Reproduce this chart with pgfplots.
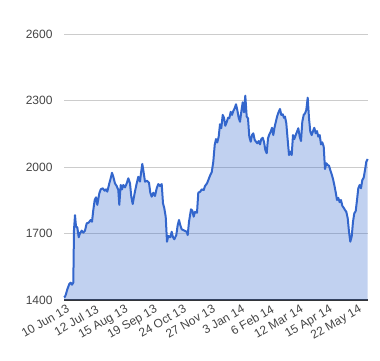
\documentclass[border=0pt]{standalone}
\usepackage{pgfplots}
\pgfplotsset{compat=1.18}
\usepackage{pgfplotstable}
\usepackage{fontspec}
\setmainfont{Liberation Sans}
\definecolor{lineblue}{HTML}{3366CC}
\definecolor{gridgray}{HTML}{CCCCCC}
\definecolor{axisdark}{HTML}{333333}
\definecolor{labelgray}{HTML}{444444}
\pgfplotstableread{
x y
64 1412
65 1415
66 1427
67.3 1448
69.3 1472
70.7 1478
72 1469
73.3 1478
74 1716
75 1783
76 1731
77.3 1728
78.7 1683
80 1701
81.7 1713
83.3 1704
85 1713
86.7 1746
88.7 1749
90.7 1761
92 1753
93.3 1806
94.7 1851
96 1863
97.3 1829
99.3 1881
100.7 1899
102.7 1904
104.7 1893
106 1899
107.3 1889
109.3 1926
110.7 1949
112 1974
113.3 1956
115 1926
116.7 1914
118.3 1896
119.3 1829
120.7 1919
122 1899
123.3 1919
125 1908
126.7 1926
128.3 1949
130 1926
131.3 1866
132.7 1833
134 1866
135 1890
136.7 1926
138.3 1956
140 1934
141 1972
142.3 2014
143.3 1986
145 1934
147 1938
149 1929
150.3 1884
151.7 1866
153.3 1884
155 1869
156.7 1904
158.3 1923
160 1914
161.7 1923
163 1836
164.3 1814
165.7 1776
167 1663
168.3 1689
170.3 1683
171.7 1708
173 1683
174.3 1674
176.3 1693
177.7 1738
179 1761
180.3 1738
181.7 1719
184.3 1713
186.7 1708
187.7 1693
189 1753
191 1809
192.3 1803
193.7 1776
195 1798
197 1794
198.3 1884
200.3 1889
201.7 1899
203.7 1896
205 1914
207 1926
208.3 1941
210.3 1964
211.7 1976
213.3 2024
214.7 2099
216 2126
217.3 2111
218.7 2137
220 2193
221.3 2175
222.7 2235
224 2222
225.3 2186
226.7 2202
228 2222
229.3 2220
230.7 2249
232 2235
233.3 2253
234.7 2265
236 2283
237.3 2257
238.7 2222
240 2204
241.3 2249
242.7 2292
244 2247
245.3 2322
246.7 2227
248 2220
249.3 2137
250.7 2114
252 2144
253.3 2152
254.7 2122
256 2114
257.3 2107
258.7 2117
260 2102
261.3 2126
262.7 2132
264 2114
265.3 2077
266.7 2062
268 2129
269.3 2147
270.7 2159
272 2177
273.3 2144
274.7 2182
276 2207
277.3 2231
278.7 2249
280 2262
281.3 2235
282.7 2238
284 2222
285 2227
286.3 2197
287.7 2122
289 2054
290.3 2069
291.7 2054
293 2144
294.3 2126
295.7 2144
297 2159
298.3 2175
299.7 2137
301 2117
302.3 2204
303.7 2235
305 2242
306.3 2257
307.7 2313
309 2220
310.3 2159
311.7 2144
313 2162
314.3 2177
315.7 2152
317 2162
318.3 2137
319.7 2144
321 2102
322.3 2111
323.7 2092
325 1991
326.3 2017
327.7 2009
329 2006
330.3 1986
331.7 1967
333 1946
334.3 1919
335.7 1886
337 1851
338.3 1861
339.7 1841
341 1851
342.3 1825
343.7 1816
345 1806
346.3 1798
347.7 1769
349 1708
350.3 1663
351.7 1686
353 1753
354.3 1791
355.7 1801
357 1851
358.3 1904
359.7 1919
361 1904
362.3 1941
363.7 1952
365 1986
366.3 2024
367.7 2036
}\stocktable
\begin{document}
\begin{tikzpicture}
\begin{axis}[
  at={(64pt,60pt)}, anchor=south west,
  scale only axis, width=304pt, height=266pt,
  xmin=64, xmax=368, ymin=1400, ymax=2600,
  axis line style={draw=none},
  tick style={draw=none},
  ytick={1700,2000,2300,2600},
  extra y ticks={1400},
  extra y tick style={grid style={color=axisdark, line width=1.3pt}},
  ymajorgrids,
  grid style={color=gridgray, line width=1pt},
  xtick={65,94.2,123.4,152.6,181.8,211,240.2,269.4,298.6,327.8,357},
  xticklabels={10 Jun 13,12 Jul 13,15 Aug 13,19 Sep 13,24 Oct 13,27 Nov 13,3 Jan 14,6 Feb 14,12 Mar 14,15 Apr 14,22 May 14},
  xticklabel style={rotate=30, anchor=north east, font=\fontsize{12}{14}\selectfont, text=labelgray, inner sep=1pt, yshift=-3pt},
  yticklabel style={font=\fontsize{12}{14}\selectfont, text=labelgray, xshift=-8pt},
  /pgf/number format/assume math mode=true,
  /pgf/number format/1000 sep={},
  clip=false,
]
\addplot[draw=none, fill=lineblue, fill opacity=0.3] table[x=x,y=y]{\stocktable} \closedcycle;
\addplot[color=lineblue, line width=2pt, line join=round, mark=none] table[x=x,y=y]{\stocktable};
\end{axis}
\pgfresetboundingbox
\useasboundingbox (0,0) rectangle (380pt,360pt);
\end{tikzpicture}
\end{document}
